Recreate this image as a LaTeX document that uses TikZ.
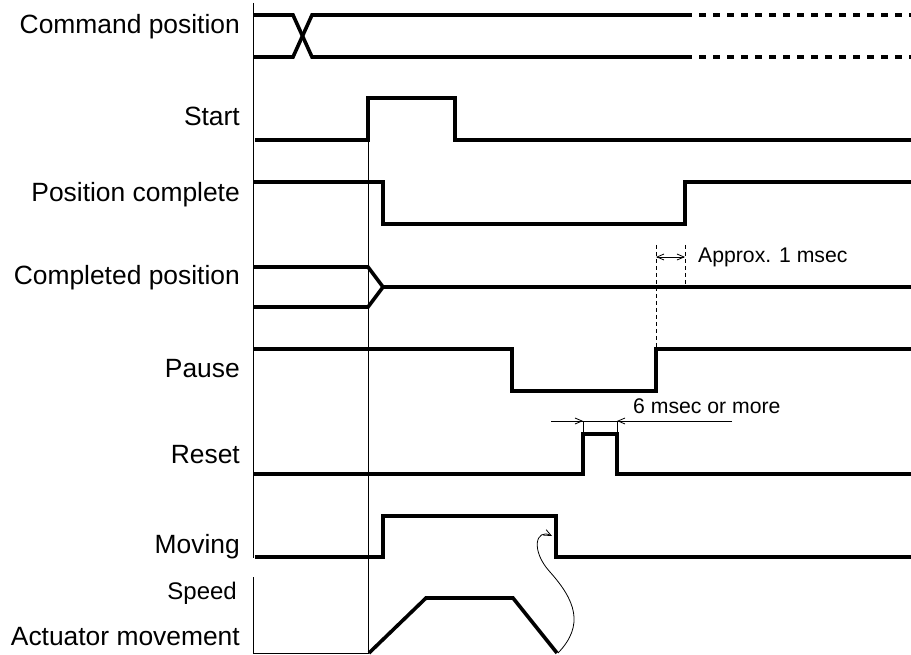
\documentclass[tikz,border=0pt]{standalone}
\usepackage{fontspec}
\setmainfont{Liberation Sans}
\usetikzlibrary{arrows.meta}
\begin{document}
\begin{tikzpicture}[x=1pt,y=-1pt,
  lbl/.style={anchor=base east,inner sep=0pt,font=\fontsize{26.4}{30}\selectfont},
  note/.style={anchor=base west,inner sep=0pt,font=\fontsize{21.2}{25}\selectfont},
  sig/.style={line width=3.6pt,line join=miter,line cap=butt},
  sigdash/.style={line width=3.2pt,dash pattern=on 7pt off 7pt},
  axis/.style={line width=1pt},
  guide/.style={line width=0.8pt,dash pattern=on 4pt off 3pt},
  dim/.style={line width=0.8pt},
  tip/.style={-{Straight Barb[length=7pt,width=6pt,line width=0.8pt]}},
  bothtips/.style={{Straight Barb[length=7pt,width=6pt,line width=0.8pt]}-{Straight Barb[length=7pt,width=6pt,line width=0.8pt]}}]
\useasboundingbox (0,0) rectangle (911,655);

% labels
\node[lbl] (lcmd) at (240,34) {Command position};
\node[lbl] (lstart) at (240,126) {Start};
\node[lbl] (lpc) at (240,202) {Position complete};
\node[lbl] (lcp) at (240,285) {Completed position};
\node[lbl] (lpause) at (240,377) {Pause};
\node[lbl] (lreset) at (240,463) {Reset};
\node[lbl] (lmove) at (240,553) {Moving};
\node[lbl,font=\fontsize{24}{28}\selectfont] (lspeed) at (237,599) {Speed};
\node[lbl] (lact) at (240,645) {Actuator movement};

% axes and reference lines
\draw[axis] (253,3) -- (253,558);
\draw[axis] (253,577) -- (253,653) -- (369,653);
\draw[axis] (368,98) -- (368,653);

% Command position
\draw[sig] (253,15) -- (293,15) -- (312,57) -- (685,57);
\draw[sig] (253,57) -- (293,57) -- (312,15) -- (685,15);
\draw[sigdash] (685,15) -- (911,15);
\draw[sigdash] (685,57) -- (911,57);

% Start
\draw[sig] (255,140) -- (368,140) -- (368,98) -- (455,98) -- (455,140) -- (911,140);

% Position complete
\draw[sig] (253,182) -- (383,182) -- (383,224) -- (685,224) -- (685,182) -- (911,182);

% Completed position
\draw[sig] (253,267) -- (368,267) -- (383,287) -- (911,287);
\draw[sig] (253,307) -- (368,307) -- (383,287);

% Pause
\draw[sig] (253,349) -- (512,349) -- (512,391) -- (656,391) -- (656,349) -- (911,349);

% Reset
\draw[sig] (253,474) -- (583,474) -- (583,434) -- (617,434) -- (617,474) -- (911,474);

% Moving
\draw[sig] (255,557) -- (383,557) -- (383,516) -- (556,516) -- (556,557) -- (911,557);

% Actuator movement (speed)
\draw[sig] (369,653) -- (426,598) -- (513,598) -- (557,653);

% Approx. 1 msec
\coordinate (g1t) at (656,245);
\coordinate (g1b) at (656,349);
\coordinate (g2t) at (685,245);
\coordinate (g2b) at (685,287);
\draw[guide] (g1t) -- (g1b);
\draw[guide] (g2t) -- (g2b);
\coordinate (a1) at (656,257);
\coordinate (a2) at (685,257);
\draw[dim,bothtips] (a1) -- (a2);
\node[note] (napprox) at (698,263) {Approx. 1 msec};

% 6 msec or more
\coordinate (d0) at (551,421);
\coordinate (d1) at (583,421);
\coordinate (d2) at (617,421);
\coordinate (d3) at (732,421);
\draw[dim] (d0) -- (d3);
\draw[dim,tip] (d0) -- (d1);
\draw[dim,tip] (d3) -- (d2);
\draw[dim] (d1) -- (583,434);
\draw[dim] (d2) -- (617,434);
\node[note] (nsix) at (633,413) {6 msec or more};

% curved arrow from speed end to moving fall
\coordinate (c0) at (558,653);
\coordinate (c1) at (552,536);
\draw[dim,tip] (c0) .. controls (585,625) and (575,600) .. (550,572)
  .. controls (530,550) and (536,528) .. (c1);
\end{tikzpicture}
\end{document}
